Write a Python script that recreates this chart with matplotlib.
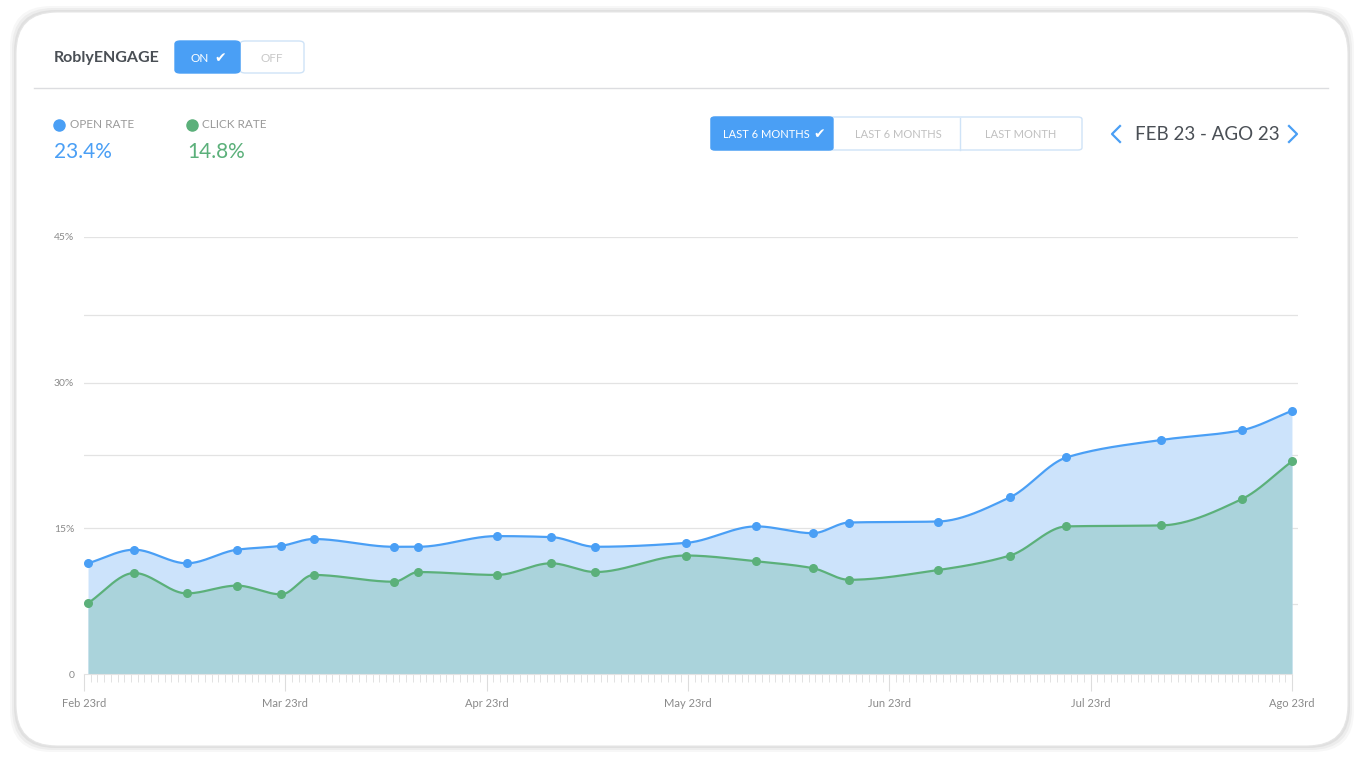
import numpy as np
import matplotlib
matplotlib.use('Agg')
import matplotlib.pyplot as plt
from matplotlib.patches import FancyBboxPatch

plt.rcParams['font.family'] = 'Lato'

# x in months since Feb 23rd
x_pts = [0.02, 0.25, 0.51, 0.76, 0.98, 1.14, 1.54, 1.66, 2.05, 2.32, 2.54,
         2.99, 3.34, 3.62, 3.80, 4.24, 4.60, 4.88, 5.35, 5.75, 6.0]
open_rate = [11.4, 12.8, 11.4, 12.8, 13.2, 13.9, 13.1, 13.1, 14.2, 14.1, 13.1,
             13.5, 15.2, 14.5, 15.6, 15.7, 18.2, 22.3, 24.1, 25.1, 27.1]
click_rate = [7.3, 10.4, 8.3, 9.1, 8.2, 10.2, 9.5, 10.5, 10.2, 11.4, 10.5,
              12.2, 11.6, 10.9, 9.7, 10.7, 12.2, 15.2, 15.3, 18.0, 21.9]
month_labels = ['Feb 23rd', 'Mar 23rd', 'Apr 23rd', 'May 23rd', 'Jun 23rd', 'Jul 23rd', 'Ago 23rd']
grid_vals = [7.2, 15, 22.6, 30, 37, 45]

BLUE = '#4a9ff5'
GREEN = '#5bb07a'


def monotone(x, y, n=40):
    x = np.asarray(x, float); y = np.asarray(y, float)
    h = np.diff(x); d = np.diff(y) / h
    m = np.zeros_like(y)
    m[0], m[-1] = d[0], d[-1]
    for i in range(1, len(y) - 1):
        if d[i - 1] * d[i] <= 0:
            m[i] = 0
        else:
            w1 = 2 * h[i] + h[i - 1]; w2 = h[i] + 2 * h[i - 1]
            m[i] = (w1 + w2) / (w1 / d[i - 1] + w2 / d[i])
    xs, ys = [], []
    for i in range(len(h)):
        t = np.linspace(0, 1, n, endpoint=False)
        h00 = 2*t**3 - 3*t**2 + 1; h10 = t**3 - 2*t**2 + t
        h01 = -2*t**3 + 3*t**2; h11 = t**3 - t**2
        xs.append(x[i] + t * h[i])
        ys.append(h00*y[i] + h10*h[i]*m[i] + h01*y[i+1] + h11*h[i]*m[i+1])
    xs.append([x[-1]]); ys.append([y[-1]])
    return np.concatenate(xs), np.concatenate(ys)


W, H = 1364, 764
fig = plt.figure(figsize=(W / 100, H / 100), dpi=100)
fig.patch.set_facecolor('white')

# card with soft shadow
for k, a in enumerate([0.05, 0.04, 0.03]):
    fig.patches.append(FancyBboxPatch(((16 - 2 - k*2) / W, (H - 748 - k*2) / H),
                                      (1332 + 4 + k*4) / W, (734 + 4 + k*4) / H,
                                      boxstyle='round,pad=0,rounding_size=0.03',
                                      transform=fig.transFigure, fc='#000000', alpha=a, ec='none',
                                      mutation_aspect=W / H, zorder=-10))
fig.patches.append(FancyBboxPatch((16 / W, (H - 746) / H), 1332 / W, 734 / H,
                                  boxstyle='round,pad=0,rounding_size=0.03',
                                  transform=fig.transFigure, fc='white', ec='#e6e6e6', lw=0.8,
                                  mutation_aspect=W / H, zorder=-9))

def fx(px): return px / W
def fy(py): return 1 - py / H

# header
fig.text(fx(54), fy(58), 'RoblyENGAGE', fontsize=11.5, fontweight='bold', color='#4a4f55', va='center')
fig.patches.append(FancyBboxPatch((fx(240), fy(73)), 64 / W, 32 / H, boxstyle='round,pad=0,rounding_size=0.004',
                                  transform=fig.transFigure, fc='white', ec='#cfe3f7', lw=1))
fig.patches.append(FancyBboxPatch((fx(175), fy(73)), 65 / W, 32 / H, boxstyle='round,pad=0,rounding_size=0.004',
                                  transform=fig.transFigure, fc=BLUE, ec=BLUE, lw=1))
fig.text(fx(200), fy(58), 'ON', fontsize=8.5, color='white', va='center', ha='center')
fig.text(fx(220), fy(58), '\u2714', fontsize=10, color='white', va='center', ha='center', family='DejaVu Sans')
fig.text(fx(272), fy(58), 'OFF', fontsize=8.5, color='#c8c8c8', va='center', ha='center')
fig.add_artist(plt.Line2D([fx(34), fx(1328)], [fy(88), fy(88)], color='#dcdde0', lw=1))

# legend stats
fig.add_artist(plt.Line2D([fx(59)], [fy(125)], marker='o', ms=8, color=BLUE))
fig.text(fx(70), fy(125), 'OPEN RATE', fontsize=8.5, color='#9a9a9a', va='center')
fig.text(fx(54), fy(152), '23.4%', fontsize=15, color=BLUE, va='center')
fig.add_artist(plt.Line2D([fx(192)], [fy(125)], marker='o', ms=8, color=GREEN))
fig.text(fx(202), fy(125), 'CLICK RATE', fontsize=8.5, color='#9a9a9a', va='center')
fig.text(fx(187), fy(152), '14.8%', fontsize=15, color=GREEN, va='center')

# range buttons
fig.patches.append(FancyBboxPatch((fx(711), fy(150)), 371 / W, 33 / H, boxstyle='round,pad=0,rounding_size=0.003',
                                  transform=fig.transFigure, fc='white', ec='#cfe3f7', lw=1))
fig.patches.append(FancyBboxPatch((fx(711), fy(150)), 122 / W, 33 / H, boxstyle='round,pad=0,rounding_size=0.003',
                                  transform=fig.transFigure, fc=BLUE, ec=BLUE, lw=1))
fig.add_artist(plt.Line2D([fx(960), fx(960)], [fy(118), fy(150)], color='#cfe3f7', lw=1))
fig.text(fx(766), fy(134), 'LAST 6 MONTHS', fontsize=8, color='white', va='center', ha='center')
fig.text(fx(819), fy(134), '\u2714', fontsize=10, color='white', va='center', ha='center', family='DejaVu Sans')
fig.text(fx(898), fy(134), 'LAST 6 MONTHS', fontsize=8, color='#c0c0c0', va='center', ha='center')
fig.text(fx(1021), fy(134), 'LAST MONTH', fontsize=8, color='#c0c0c0', va='center', ha='center')
# chevrons as thin polylines
fig.add_artist(plt.Line2D([fx(1120), fx(1112), fx(1120)], [fy(126), fy(134), fy(142)], color=BLUE, lw=1.6))
fig.add_artist(plt.Line2D([fx(1289), fx(1297), fx(1289)], [fy(126), fy(134), fy(142)], color=BLUE, lw=1.6))
fig.text(fx(1207), fy(134), 'FEB 23 - AGO 23', fontsize=13.5, color='#4a4f55', va='center', ha='center')

# chart
ax = fig.add_axes([fx(84), fy(674), (1298 - 84) / W, (674 - 237) / H], zorder=5)
ax.patch.set_alpha(0)
ax.set_xlim(0, 6.03)
ax.set_ylim(0, 45)
for s in ax.spines.values():
    s.set_visible(False)
for g in grid_vals:
    ax.axhline(g, color='#e3e3e3', lw=0.9, zorder=0)

ox, oy = monotone(x_pts, open_rate)
cx, cy = monotone(x_pts, click_rate)
ax.fill_between(ox, 0, oy, color='#cce3fb', lw=0, zorder=1)
ax.fill_between(cx, 0, cy, color='#aad3db', lw=0, zorder=2)
ax.plot(ox, oy, color=BLUE, lw=1.6, zorder=3)
ax.plot(cx, cy, color=GREEN, lw=1.6, zorder=3)
ax.scatter(x_pts, open_rate, s=30, color=BLUE, zorder=4)
ax.scatter(x_pts, click_rate, s=30, color=GREEN, zorder=4)

ax.set_yticks([0, 15, 30, 45])
ax.set_yticklabels(['0', '15%', '30%', '45%'])
ax.tick_params(axis='y', length=0, pad=7, labelsize=7.5, labelcolor='#8a8a8a')
ax.set_xticks(range(7))
ax.set_xticklabels(month_labels)
ax.set_xticks(np.arange(0, 6.0001, 1 / 30), minor=True)
ax.tick_params(axis='x', which='major', length=12, color='#dddddd', pad=5, labelsize=8, labelcolor='#8a8a8a')
ax.tick_params(axis='x', which='minor', length=6, color='#dddddd')
ax.spines['bottom'].set_visible(True)
ax.spines['bottom'].set_color('#e3e3e3')
ax.spines['bottom'].set_bounds(0, 6)

fig.savefig('out.png', dpi=100, facecolor='white')
